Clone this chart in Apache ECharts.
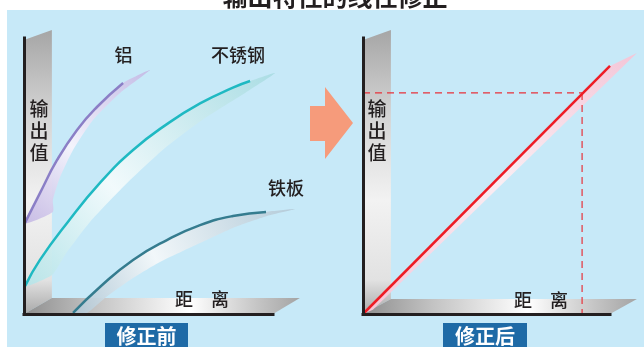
<!DOCTYPE html>
<html><head><meta charset="utf-8">
<script src="https://cdn.jsdelivr.net/npm/echarts@6/dist/echarts.min.js"></script>
<style>html,body{margin:0;padding:0;background:#fff;}#c{width:644px;height:347px;}</style>
</head><body><div id="c"></div>
<script>
// ---- data (axis units 0..100 on both panels) ----
const titleText = '输出特性的线性修正';
const yAxisName = '输出值';
const xAxisName = '距　离';
const beforeLabel = '修正前';
const afterLabel = '修正后';
const seriesNames = ['铝', '不锈钢', '铁板'];

const aluCurve = [[0.4,33.0],[6.4,43.8],[13.3,55.8],[21.3,66.7],[29.3,75.0],[39.8,83.7]];
const aluBand  = [[50.6,88.4],[38.6,80.1],[27.7,70.3],[19.7,59.4],[14.5,49.6],[11.6,41.3],[11.6,37.0]];
const sstCurve = [[0.4,10.1],[6.4,19.6],[17.3,33.0],[30.5,47.5],[43.8,59.4],[57.4,68.8],[70.7,76.3],[83.9,82.0],[90.8,84.4]];
const sstBand  = [[100.8,87.3],[88.8,80.1],[72.7,71.0],[56.6,60.1],[40.6,46.7],[26.5,33.3],[16.5,21.4],[11.2,14.1]];
const ironCurve = [[19.7,0.4],[30.5,9.8],[43.8,19.6],[57.4,26.8],[70.7,32.2],[83.9,35.5],[97.2,37.0]];
const ironBand  = [[108.8,38.0],[97.6,35.5],[83.9,31.2],[70.7,25.7],[54.6,18.8],[42.6,12.3],[32.5,5.8],[25.3,0.4]];

const afterLine = [[0,0],[100,89.9]];
const afterBand = [[0,0],[100,89.9],[110.9,94.6],[4,1.5]];
const targetDist = 88.7;
const targetOut = 80.1;

// ---- chart ----
const chart = echarts.init(document.getElementById('c'), null, {renderer:'canvas'});
const FONT = '"Noto Sans CJK SC","Noto Sans",sans-serif';
const TXT = '#231f20';

function lg(x0,y0,x1,y1,stops){
  return new echarts.graphic.LinearGradient(x0,y0,x1,y1,stops.map(s=>({offset:s[0],color:s[1]})));
}
const wallFill = () => lg(0,0,0,1,[[0,'#a6a6a6'],[0.3,'#d4d4d4'],[0.6,'#f2f2f2'],[0.88,'#e2e2e2'],[1,'#a9a9a9']]);
const floorFill = () => lg(0,0,1,0,[[0,'#8e8e8e'],[0.25,'#c2c2c2'],[0.6,'#ffffff'],[0.85,'#c4c4c4'],[1,'#a4a4a4']]);

function poly(gi, pts, fill, z, smooth){
  return {
    type:'custom', xAxisIndex:gi, yAxisIndex:gi, coordinateSystem:'cartesian2d',
    clip:false, silent:true, z:z, data:[[0,0]],
    renderItem:function(params, api){
      return {type:'polygon', shape:{points:pts.map(p=>api.coord(p)), smooth:smooth||0},
              style:{fill:typeof fill==='function'?fill():fill}};
    }
  };
}
function line(gi, pts, color, width, z, extra){
  return Object.assign({
    type:'line', xAxisIndex:gi, yAxisIndex:gi, data:pts, smooth:0.5, symbol:'none',
    silent:true, z:z, animation:false,
    lineStyle:{color:color, width:width, cap:'butt'}
  }, extra||{});
}
function axes(gi){
  return {gridIndex:gi, type:'value', min:0, max:100, z:10,
    axisLine:{show:true, onZero:false, lineStyle:{color:TXT, width:3, cap:'square'}},
    axisTick:{show:false}, axisLabel:{show:false}, splitLine:{show:false}};
}

const wallL = [[0,0],[0,99.3],[11.2,102.9],[11.2,5.8]];
const floorL = [[0,0],[11.2,5.8],[110.8,5.8],[100,0]];
const wallR = [[0,0],[0,99.3],[11.3,102.9],[11.3,5.4]];
const floorR = [[0,0],[11.3,5.4],[110.9,5.4],[100,0]];

const series = [
  poly(0, wallL, wallFill, 1),
  poly(0, floorL, floorFill, 1),
  poly(1, wallR, wallFill, 1),
  poly(1, floorR, floorFill, 1),
  poly(0, aluCurve.concat(aluBand), lg(0,1,1,0,[[0,'rgba(196,184,228,0.9)'],[0.45,'rgba(246,244,252,0.95)'],[1,'rgba(196,184,228,0.9)']]), 2, 0.2),
  poly(0, sstCurve.concat(sstBand), lg(0,1,1,0,[[0,'rgba(180,228,232,0.9)'],[0.4,'rgba(244,251,252,0.95)'],[1,'rgba(168,220,226,0.9)']]), 2, 0.2),
  poly(0, ironCurve.concat(ironBand), lg(0,1,1,0,[[0,'rgba(176,198,212,0.9)'],[0.4,'rgba(244,248,250,0.95)'],[1,'rgba(178,200,214,0.9)']]), 2, 0.2),
  poly(1, afterBand, lg(0,1,1,0,[[0,'rgba(248,196,214,0.95)'],[0.5,'rgba(253,238,243,0.95)'],[1,'rgba(246,196,214,0.95)']]), 2, 0),
  line(0, aluCurve, '#8b7fc6', 2.5, 3),
  line(0, sstCurve, '#1fb9c2', 2.5, 3),
  line(0, ironCurve, '#357c8f', 2.5, 3),
  line(1, [[0,targetOut],[targetDist,targetOut]], '#e8323a', 1.2, 3, {smooth:false, lineStyle:{color:'#e8323a', width:1.2, type:[7,5]}}),
  line(1, [[targetDist,targetOut],[targetDist,0]], '#e8323a', 1.2, 3, {smooth:false, lineStyle:{color:'#e8323a', width:1.2, type:[7,5]}}),
  line(1, afterLine, '#ee1c25', 2.5, 4, {smooth:false})
];

function txt(x, y, s, size, opts){
  return Object.assign({type:'text', x:x, y:y, z:50, silent:true,
    style:Object.assign({text:s, font:'500 '+size+'px '+FONT, fill:TXT, textAlign:'center', textVerticalAlign:'middle'}, (opts&&opts.style)||{})},
    opts&&opts.el||{});
}
function vtxt(x, yTop, s, size, step){
  return s.split('').map((ch,i)=>txt(x, yTop + i*step, ch, size));
}

const graphics = [
  {type:'rect', shape:{x:7, y:10, width:637, height:337}, style:{fill:'#c7e9f8'}, z:-10, silent:true},
  {type:'text', x:335, y:9, z:5, silent:true, style:{text:titleText, font:'bold 25px '+FONT, fill:TXT, textAlign:'center', textVerticalAlign:'bottom'}},
  {type:'polygon', shape:{points:[[310,106],[325,106],[325,87],[353,123],[325,159],[325,141],[310,141]]}, style:{fill:'#f69b7b'}, z:5, silent:true},
  {type:'rect', shape:{x:105, y:323, width:83, height:30}, style:{fill:'#1e6aa6'}, z:5, silent:true},
  {type:'rect', shape:{x:443, y:323, width:84, height:30}, style:{fill:'#1e6aa6'}, z:5, silent:true},
  txt(146.5, 336, beforeLabel, 20, {style:{font:'bold 20px '+FONT, fill:'#ffffff'}}),
  txt(485, 336, afterLabel, 20, {style:{font:'bold 20px '+FONT, fill:'#ffffff'}}),
  txt(123.5, 55, seriesNames[0], 18),
  txt(238, 55, seriesNames[1], 18),
  txt(286, 188, seriesNames[2], 18),
  txt(202, 299, xAxisName, 18),
  txt(541, 300, xAxisName, 18)
].concat(vtxt(39, 109, yAxisName, 19, 22)).concat(vtxt(377, 109, yAxisName, 19, 22));

chart.setOption({
  backgroundColor:'#ffffff',
  animation:false,
  grid:[
    {left:24, top:38, width:249, height:276},
    {left:363, top:38, width:247, height:276}
  ],
  xAxis:[axes(0), axes(1)],
  yAxis:[axes(0), axes(1)],
  series:series,
  graphic:graphics
});
</script></body></html>
